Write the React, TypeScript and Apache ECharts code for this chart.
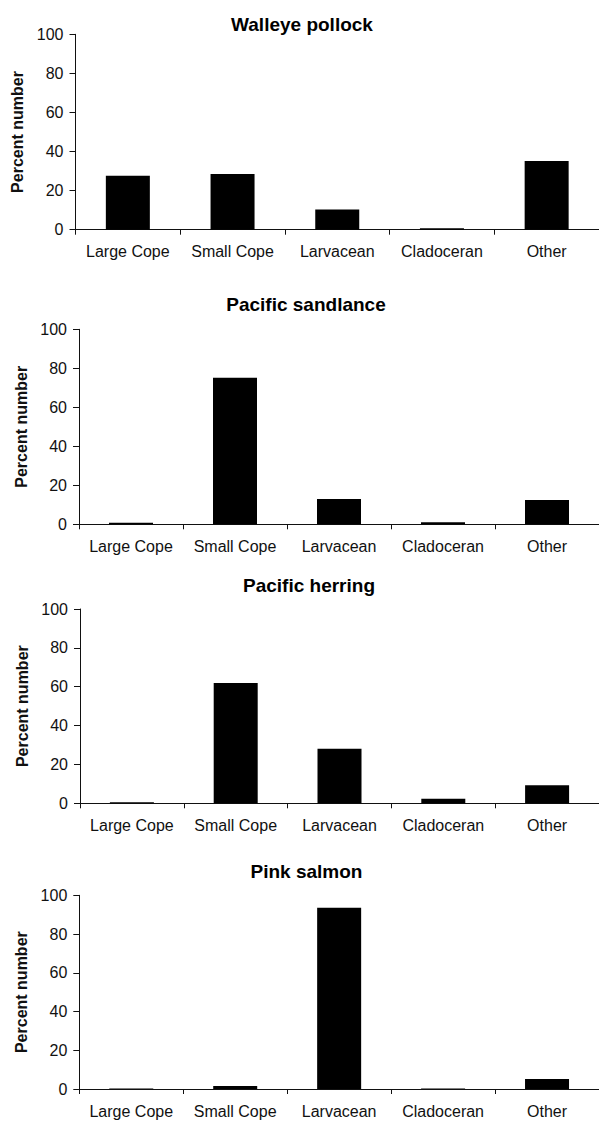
import React, { useEffect, useRef } from "react";
import * as echarts from "echarts";

const categories = ["Large Cope", "Small Cope", "Larvacean", "Cladoceran", "Other"];
const panelTitles = ["Walleye pollock", "Pacific sandlance", "Pacific herring", "Pink salmon"];
const walleyePollock = [27.6, 28.5, 10.4, 0.7, 35.2];
const pacificSandlance = [0.8, 75.2, 13.0, 1.0, 12.5];
const pacificHerring = [0.5, 61.9, 28.1, 2.4, 9.3];
const pinkSalmon = [0.3, 1.5, 93.6, 0.3, 5.2];
const yAxisName = "Percent number";
const yMin = 0;
const yMax = 100;
const yInterval = 20;

const panelData = [walleyePollock, pacificSandlance, pacificHerring, pinkSalmon];

// layout (pixels)
const layouts = [
  { left: 75.5, top: 34.3, bottom0: 229.7, right: -3, titleX: 302, titleY: 24 },
  { left: 79, top: 329.3, bottom0: 524.3, right: -6.5, titleX: 306, titleY: 304 },
  { left: 80, top: 609, bottom0: 803.3, right: -8, titleX: 309, titleY: 585 },
  { left: 79.3, top: 895.3, bottom0: 1089, right: -7, titleX: 306.5, titleY: 871 },
];

const FONT = '"Liberation Sans", Arial, Helvetica, sans-serif';
const W = 599;
const H = 1121;

export default function App() {
  const ref = useRef<HTMLDivElement>(null);
  useEffect(() => {
    if (!ref.current) return;
    const chart = echarts.init(ref.current, undefined, { renderer: "svg" });
    const grid = layouts.map((l) => ({
      left: l.left,
      top: l.top,
      right: l.right,
      height: l.bottom0 - l.top,
      containLabel: false,
    }));
    const xAxis = layouts.map((_, i) => ({
      type: "category",
      gridIndex: i,
      data: categories,
      boundaryGap: true,
      axisLine: { show: true, lineStyle: { color: "#111", width: 1.2 } },
      axisTick: { show: true, length: 5, inside: false, alignWithLabel: false, lineStyle: { color: "#111" } },
      axisLabel: { color: "#111", fontSize: 16, fontFamily: FONT, margin: 14, interval: 0 },
      splitLine: { show: false },
    }));
    const yAxis = layouts.map((_, i) => ({
      type: "value",
      gridIndex: i,
      min: yMin,
      max: yMax,
      interval: yInterval,
      name: yAxisName,
      nameLocation: "middle",
      nameGap: 47,
      nameTextStyle: { color: "#111", fontSize: 16, fontWeight: "bold", fontFamily: FONT },
      axisLine: { show: true, lineStyle: { color: "#111", width: 1 } },
      axisTick: { show: true, length: 6, inside: false, lineStyle: { color: "#111" } },
      axisLabel: { color: "#111", fontSize: 16, fontFamily: FONT, margin: 12 },
      splitLine: { show: false },
    }));
    const series = panelData.map((d, i) => ({
      type: "bar",
      xAxisIndex: i,
      yAxisIndex: i,
      data: d,
      barWidth: 44,
      itemStyle: { color: "#000" },
    }));
    const graphic = layouts.map((l, i) => ({
      type: "text",
      x: l.titleX,
      y: l.titleY,
      style: {
        text: panelTitles[i],
        font: `bold 19px ${FONT}`,
        fontSize: 19,
        fontWeight: "bold",
        fontFamily: FONT,
        align: "center",
        verticalAlign: "middle",
        fill: "#000",
      },
    }));
    chart.setOption({
      animation: false,
      backgroundColor: "#fff",
      grid,
      xAxis,
      yAxis,
      series,
      graphic,
    } as any);
    return () => chart.dispose();
  }, []);
  return (
    <div
      ref={ref}
      style={{ position: "absolute", left: 0, top: 0, width: W, height: H, background: "#fff" }}
    />
  );
}
